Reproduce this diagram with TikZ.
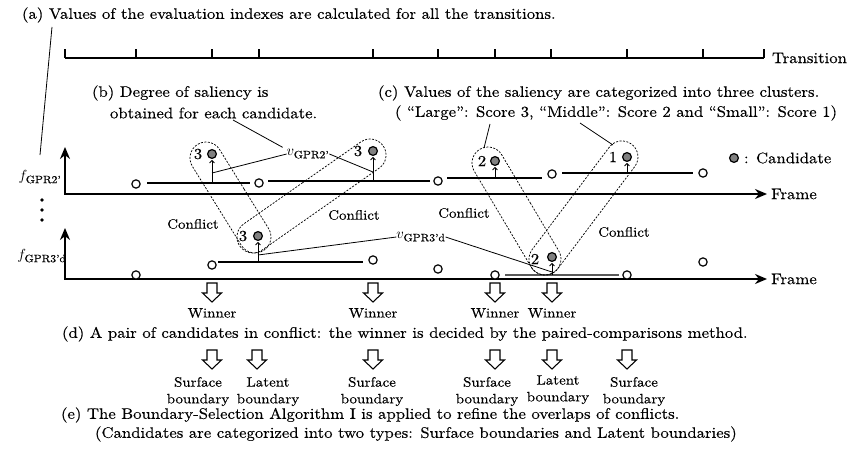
\documentclass[tikz,border=0pt]{standalone}
\usepackage{fontspec}
\setmainfont{lmroman10-regular.otf}[FakeStretch=1.1,FakeBold=0.3]
\usetikzlibrary{arrows.meta,shapes.misc,calc}
\definecolor{candgray}{gray}{0.5}

\begin{document}
\begin{tikzpicture}[x=0.75pt,y=-0.75pt,
  every node/.style={inner sep=0pt,outer sep=0pt},
  txt/.style={font=\fontsize{11.4}{13.7}\selectfont},
  lbl/.style={font=\fontsize{10.2}{12.2}\selectfont},
  opn/.style={circle,draw,line width=0.9pt,fill=white,minimum size=6.2pt},
  cand/.style={circle,draw,line width=0.9pt,fill=candgray,minimum size=6.6pt},
  seg/.style={line width=0.85pt},
  rise/.style={line width=0.7pt,-{To[length=2.4pt,width=4pt]},shorten >=1.2pt},
  lead/.style={line width=0.6pt},
  axisline/.style={line width=1.5pt,line join=miter,
    {Stealth[length=9pt,width=7.5pt]}-{Stealth[length=9pt,width=7.5pt]}},
  zone/.style={rounded rectangle,draw,line width=0.55pt,
    dash pattern=on 1.5pt off 1.1pt,minimum height=24pt},
  tickline/.style={line width=1.4pt},
  blk/.pic={\draw[line width=0.8pt,fill=white,line join=miter]
    (-5,0) -- (5,0) -- (5,10) -- (9.5,10) -- (0,19) -- (-9.5,10) -- (-5,10) -- cycle;}
]
\useasboundingbox (0,0) rectangle (864,453);

% ---- transition scale ----
\draw[tickline] (65,58) -- (764,58);
\foreach \x in {65,136,212,259,373,438,495,551,627,703,764}
  \draw[tickline] (\x,58) -- (\x,49);
\node[txt,anchor=west] (trans) at (772,58) {Transition};

% ---- headline texts ----
\node[txt,anchor=west] (ta) at (22,15) {(a) Values of the evaluation indexes are calculated for all the transitions.};
\node[txt,anchor=west] (tb1) at (92,93) {(b) Degree of saliency is};
\node[txt,anchor=west] (tb2) at (110,113) {obtained for each candidate.};
\node[txt,anchor=west] (tc1) at (378,93) {(c) Values of the saliency are categorized into three clusters.};
\node[txt,anchor=west] (tc2) at (395,113) {( ``Large'': Score 3, ``Middle'': Score 2 and ``Small'': Score 1)};

% ---- axes ----
\draw[axisline] (65,147) -- (65,194) -- (767,194);
\draw[axisline] (65,228) -- (65,279) -- (767,279);
\node[txt,anchor=west] (fr1) at (771,194) {Frame};
\node[txt,anchor=west] (fr2) at (771,279) {Frame};
\node[txt] (fu) at (40,177) {$f_{\mbox{\footnotesize GPR2'}}$};
\node[txt] (fl) at (42,256) {$f_{\mbox{\footnotesize GPR3'd}}$};
\foreach \y in {200,210,220} \fill (42,\y) circle (1.4pt);

% leader of (a)
\coordinate (la1) at (52,27);
\coordinate (la2) at (40,155);
\draw[lead] (la1) -- (la2);

% ---- upper row ----
\coordinate (s1a) at (147,183); \coordinate (s1b) at (250,183);
\coordinate (s2a) at (268,181); \coordinate (s2b) at (430,181);
\coordinate (s3a) at (447,178); \coordinate (s3b) at (542,178);
\coordinate (s4a) at (562,173); \coordinate (s4b) at (693,173);
\foreach \s in {1,2,3,4} \draw[seg] (s\s a) -- (s\s b);

% ---- lower row ----
\coordinate (t1a) at (218,262); \coordinate (t1b) at (363,262);
\coordinate (t2a) at (505,275); \coordinate (t2b) at (619,275);
\draw[seg] (t1a) -- (t1b);
\draw[seg,black!65] (t2a) -- (t2b);

% ---- conflict zones ----
\node[zone,minimum width=93.7pt,rotate=-58.2] (z1) at (230.5,197.5) {};
\node[zone,minimum width=131.2pt,rotate=35] (z2) at (311.5,196) {};
\node[zone,minimum width=107.7pt,rotate=-59.3] (z3) at (516.5,211) {};
\node[zone,minimum width=119.9pt,rotate=53] (z4) at (583.5,208) {};

% ---- circles ----
\node[opn] (u1) at (136,184) {};
\node[opn] (u2) at (259,183) {};
\node[opn] (u3) at (438,181) {};
\node[opn] (u4) at (552,174) {};
\node[opn] (u5) at (703,173) {};
\node[cand] (c1) at (212,154) {};
\node[cand] (c2) at (373,151) {};
\node[cand] (c3) at (495,161) {};
\node[cand] (c4) at (627,157) {};

\node[opn] (l1) at (136,275) {};
\node[opn] (l2) at (212,265) {};
\node[opn] (l3) at (373,260) {};
\node[opn] (l4) at (438,269) {};
\node[opn] (l5) at (495,275) {};
\node[opn] (l6) at (627,275) {};
\node[opn] (l7) at (703,262) {};
\node[cand] (d1) at (258,236) {};
\node[cand] (d2) at (552,257) {};

% rises from the segments to the candidates
\draw[rise] (s1a -| c1) -- (c1.south);
\draw[rise] (s2a -| c2) -- (c2.south);
\draw[rise] (s3a -| c3) -- (c3.south);
\draw[rise] (s4a -| c4) -- (c4.south);
\draw[rise] (t1a -| d1) -- (d1.south);
\draw[rise] (t2a -| d2) -- (d2.south);

% scores
\node[txt] (n1) at (198,154) {3};
\node[txt] (n2) at (358,151) {3};
\node[txt] (n3) at (482,161) {2};
\node[txt] (n4) at (613,157) {1};
\node[txt] (n5) at (243,236) {3};
\node[txt] (n6) at (535,259) {2};

% legend
\node[cand] (lg) at (734,158) {};
\node[txt,anchor=west] (lgt) at (744,158) {: Candidate};

% saliency labels and their leaders
\node[txt] (v2) at (308,154) {$v_{\mbox{\footnotesize GPR2'}}$};
\node[txt] (v3) at (421,237) {$v_{\mbox{\footnotesize GPR3'd}}$};
\coordinate (lb) at (233,120);
\draw[lead] (lb) -- ([xshift=-3pt,yshift=5pt]v2.west);
\draw[lead] (v2.west) -- ($(s1a -| c1)+(0,-10)$);
\draw[lead] (v2.east) -- ($(s2a -| c2)+(0,-9)$);
\draw[lead] (v3.west) -- ($(t1a -| d1)+(0,-7)$);
\draw[lead] (v3.east) -- ($(t2a -| d2)+(0,-3)$);

\coordinate (lc1) at (490,124); \coordinate (lc1e) at (484,148);
\coordinate (lc2) at (580,123); \coordinate (lc2e) at (613,145);
\draw[lead] (lc1) -- (lc1e);
\draw[lead] (lc2) -- (lc2e);

% conflict labels
\node[lbl] (k1) at (193,224) {Conflict};
\node[lbl] (k2) at (354,215) {Conflict};
\node[lbl] (k3) at (464,213) {Conflict};
\node[lbl] (k4) at (624,232) {Conflict};

% ---- winners ----
\foreach \x/\n in {212/1,373/2,495/3,552/4}{
  \pic at (\x,283) {blk};
  \node[lbl] (w\n) at (\x,313) {Winner};
}
\node[txt,anchor=west] (td) at (62,334) {(d) A pair of candidates in conflict: the winner is decided by the paired-comparisons method.};

% ---- boundary types ----
\foreach \x in {212,257,373,495,552,627} \pic at (\x,350) {blk};
\foreach \x/\t/\n/\y in {198/Surface/1/0,268/Latent/2/0,372/Surface/3/0,487/Surface/4/0,558/Latent/5/-2,634/Surface/6/0}{
  \node[lbl] (bt\n) at (\x,382+\y) {\t};
  \node[lbl] (bb\n) at (\x,400+\y) {boundary};
}
\node[txt,anchor=west] (te1) at (61,415) {(e) The Boundary-Selection Algorithm I is applied to refine the overlaps of conflicts.};
\node[txt,anchor=west] (te2) at (95,434) {(Candidates are categorized into two types: Surface boundaries and Latent boundaries)};
\end{tikzpicture}
\end{document}
